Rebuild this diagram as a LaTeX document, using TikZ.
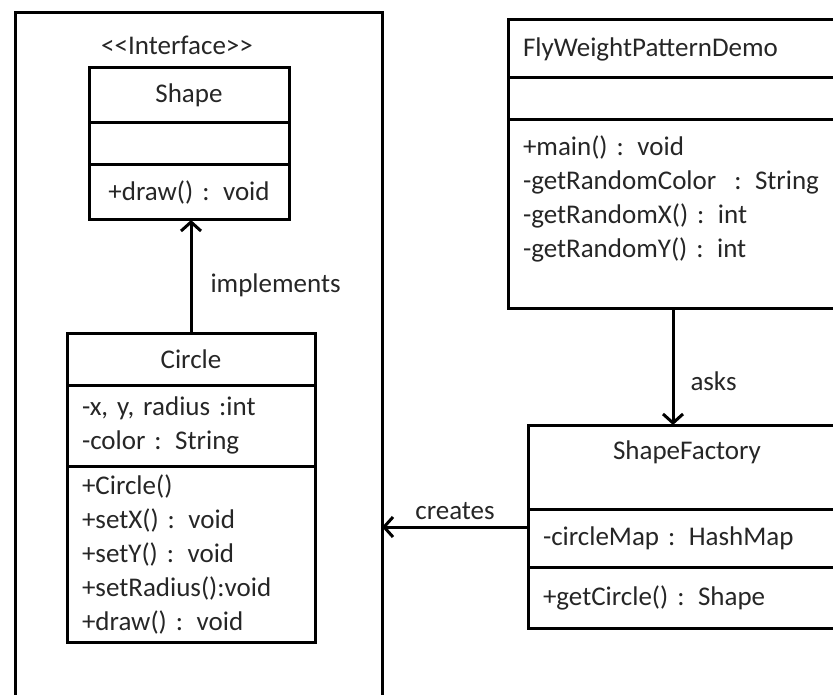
\documentclass[tikz,border=0pt]{standalone}
\usepackage{fontspec}
\setmainfont{Carlito}
\usetikzlibrary{arrows.meta}
\tikzset{every node/.style={font=\fontsize{27}{34}\selectfont, text=black!85},
 part/.style={draw, line width=3pt, anchor=north west, inner xsep=15pt, inner ysep=0pt, outer sep=0pt, text width=#1},
 title/.style={part=#1, align=center},
 list/.style={part=#1, align=left},
 frame/.style={draw, line width=3pt, anchor=north west, outer sep=0pt},
 arr/.style={line width=3pt, -{Straight Barb[length=9pt,width=20pt]}},
 lbl/.style={inner sep=0pt},
 }

\begin{document}
\begin{tikzpicture}[x=1pt,y=-1pt]
\useasboundingbox (0,0) rectangle (833,695);
\clip (0,0) rectangle (833,695);
\node[frame, minimum width=367pt, minimum height=707pt] (client) at (15,13) {};
\node[lbl] (iface) at (177,45) {<{}<Interface>{}>};
\node[title=170pt, minimum height=55pt] (shapeT) at (89,68) {Shape};
\node[list=170pt, minimum height=42pt] (shapeA) at (89,123) {};
\node[title=170pt, minimum height=55pt] (shapeM) at (89,165) {+draw() : void};
\node[title=218pt, minimum height=52pt] (circleT) at (67,333) {Circle};
\node[list=218pt, minimum height=81pt] (circleA) at (67,385) {-x, y, radius :int\\-color : String};
\node[list=218pt, minimum height=176pt] (circleM) at (67,466)
 {+Circle()\\+setX() : void\\+setY() : void\\+setRadius():void\\+draw() : void};
\node[list=308pt, minimum height=58pt] (flyT) at (508,20) {FlyWeightPatternDemo};
\node[list=308pt, minimum height=42pt] (flyA) at (508,78) {};
\node[list=308pt, minimum height=188pt] (flyM) at (508,120)
 {+main() : void\\-getRandomColor \ : String\\-getRandomX() : int\\-getRandomY() : int\\ \mbox{}};
\node[title=288pt, minimum height=84pt] (sfT) at (528,425) {ShapeFactory\\ \mbox{}};
\node[list=288pt, minimum height=58pt] (sfA) at (528,509) {-circleMap : HashMap};
\node[list=288pt, minimum height=61pt] (sfM) at (528,567) {+getCircle() : Shape};
\draw[arr] (circleT.north) -- (circleT.north |- shapeM.south)
 node[lbl, pos=.42, right=18pt] {implements};
\draw[arr] ([xshift=-4pt]flyM.south) -- ([xshift=-4pt]flyM.south |- sfT.north)
 node[lbl, pos=.63, right=16pt] {asks};
\draw[arr] ([yshift=11pt]sfA.west) -- ([yshift=11pt]sfA.west -| client.east)
 node[lbl, pos=.5, above=6pt] {creates};
\end{tikzpicture}
\end{document}
